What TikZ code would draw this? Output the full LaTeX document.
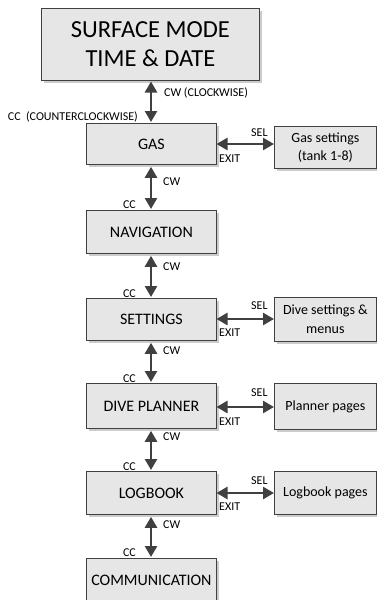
\documentclass[tikz,border=0pt]{standalone}
\usepackage{fontspec}
\setmainfont{Carlito}
\usetikzlibrary{arrows.meta,shadows}
\definecolor{boxfill}{HTML}{E6E6E6}
\definecolor{boxline}{HTML}{404040}
\definecolor{arrcol}{HTML}{404040}
\definecolor{shadecol}{HTML}{CCCCCC}
\begin{document}
\begin{tikzpicture}[x=1pt,y=-1pt,
  box/.style={draw=boxline, line width=0.8pt, fill=boxfill, inner sep=0pt, align=center,
    anchor=north west, text=black,
    drop shadow={shadow xshift=3pt, shadow yshift=-3pt, fill=shadecol, opacity=1}},
  mainbox/.style={box, minimum width=130pt, minimum height=42pt, font=\fontsize{16}{19}\selectfont},
  sidebox/.style={box, minimum width=102pt, minimum height=43pt, font=\fontsize{14}{18.5}\selectfont},
  dbl/.style={draw=arrcol, line width=2.5pt, {Triangle[width=12pt,length=11pt]}-{Triangle[width=12pt,length=11pt]}},
  lbl/.style={font=\fontsize{12}{13}\selectfont, inner sep=0pt, text=black}]
\useasboundingbox (0,0) rectangle (376,600);

\node[box, minimum width=218pt, minimum height=72pt, font=\fontsize{24.5}{29}\selectfont] (surf) at (41,8) {SURFACE MODE\\TIME \& DATE};

\node[mainbox, minimum height=41pt] (gas) at (86,123) {GAS};
\node[mainbox, minimum height=43pt] (nav) at (86,210) {NAVIGATION};
\node[mainbox] (set) at (86,298) {SETTINGS};
\node[mainbox, minimum height=45pt] (plan) at (86,383) {DIVE PLANNER};
\node[mainbox, minimum height=43pt] (log) at (86,471) {LOGBOOK};
\node[mainbox, minimum height=44pt] (comm) at (86,558) {COMMUNICATION};

\node[sidebox, minimum height=42pt] (gass) at (274,126) {Gas settings\\(tank 1-8)};
\node[sidebox, minimum height=44pt] (dives) at (274,297) {Dive settings \&\\menus};
\node[sidebox, minimum height=46pt] (plans) at (274,383) {Planner pages};
\node[sidebox, minimum height=43pt] (logs) at (274,471) {Logbook pages};

% vertical connectors
\coordinate (v0) at (151,81.5);
\draw[dbl] (v0) -- ([yshift=1pt]gas.north -| v0);
\draw[dbl] ([yshift=-2pt]gas.south -| v0) -- ([yshift=1pt]nav.north -| v0);
\draw[dbl] ([yshift=-2pt]nav.south -| v0) -- ([yshift=1pt]set.north -| v0);
\draw[dbl] ([yshift=-2pt]set.south -| v0) -- ([yshift=1pt]plan.north -| v0);
\draw[dbl] ([yshift=-2pt]plan.south -| v0) -- ([yshift=1pt]log.north -| v0);
\draw[dbl] ([yshift=-2pt]log.south -| v0) -- ([yshift=1pt]comm.north -| v0);

% horizontal connectors
\draw[dbl] (216.5,144) coordinate (h1) -- (h1 -| gass.west);
\draw[dbl] (216.5,319) coordinate (h2) -- (h2 -| dives.west);
\draw[dbl] (216.5,407) coordinate (h3) -- (h3 -| plans.west);
\draw[dbl] (216.5,493) coordinate (h4) -- (h4 -| logs.west);

% labels
\node[lbl, anchor=west] (cw0) at (164,93) {CW (CLOCKWISE)};
\node[lbl, anchor=east] (cc0) at (138,117) {CC\ \ (COUNTERCLOCKWISE)};
\node[lbl, anchor=west] (cw1) at (163,182) {CW};
\node[lbl, anchor=east] (cc1) at (136,205) {CC};
\node[lbl, anchor=west] (cw2) at (163,267) {CW};
\node[lbl, anchor=east] (cc2) at (136,294) {CC};
\node[lbl, anchor=west] (cw3) at (163,351) {CW};
\node[lbl, anchor=east] (cc3) at (136,379) {CC};
\node[lbl, anchor=west] (cw4) at (163,437) {CW};
\node[lbl, anchor=east] (cc4) at (136,467) {CC};
\node[lbl, anchor=west] (cw5) at (163,525) {CW};
\node[lbl, anchor=east] (cc5) at (136,553) {CC};

\node[lbl, anchor=west] (sel1) at (251,133) {SEL};
\node[lbl, anchor=west] (ex1) at (219,159) {EXIT};
\node[lbl, anchor=west] (sel2) at (251,306) {SEL};
\node[lbl, anchor=west] (ex2) at (219,333) {EXIT};
\node[lbl, anchor=west] (sel3) at (251,393) {SEL};
\node[lbl, anchor=west] (ex3) at (219,421.5) {EXIT};
\node[lbl, anchor=west] (sel4) at (251,481) {SEL};
\node[lbl, anchor=west] (ex4) at (219,507) {EXIT};
\end{tikzpicture}
\end{document}
